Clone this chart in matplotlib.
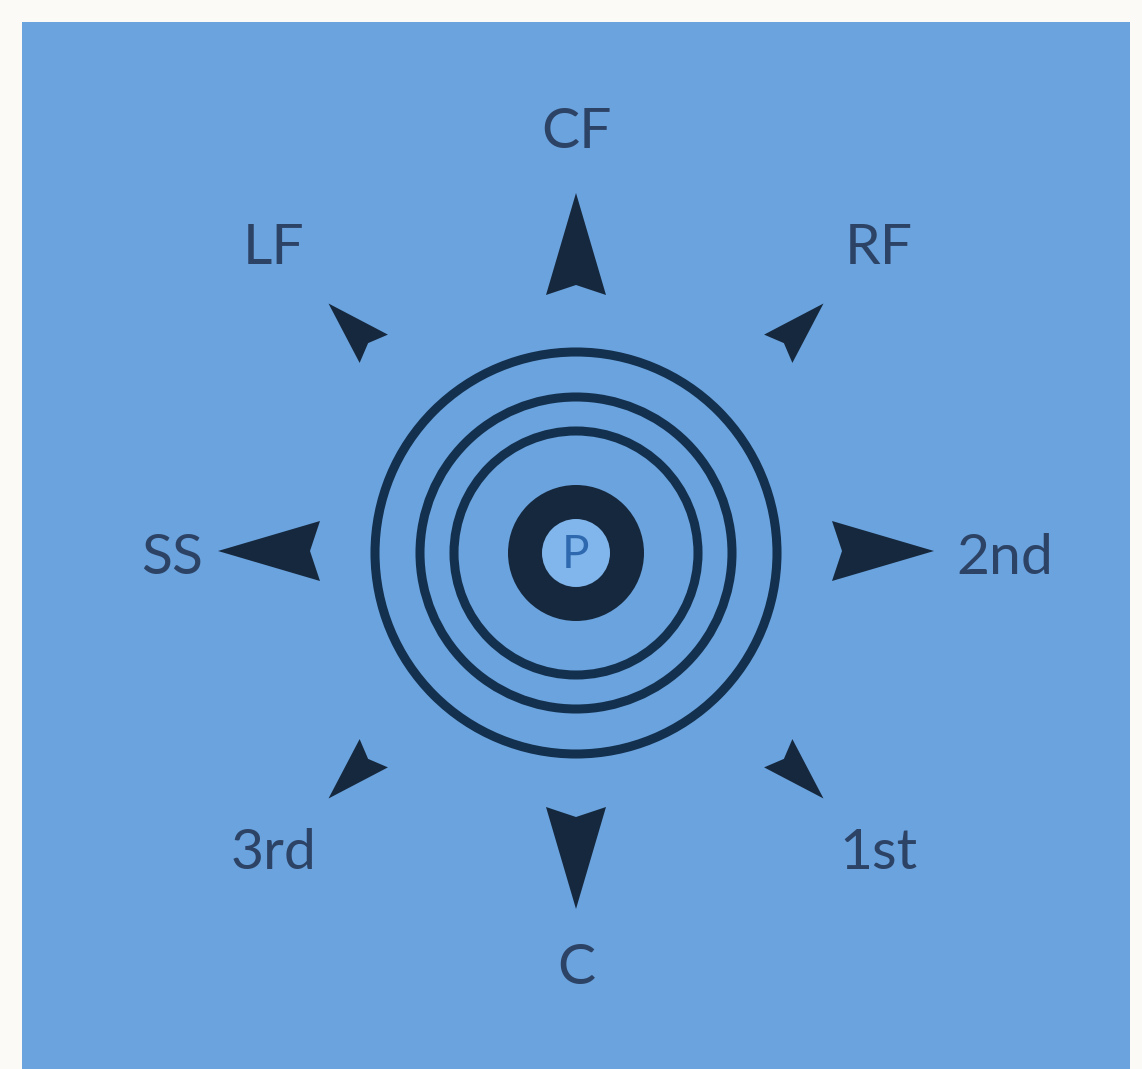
import numpy as np
import matplotlib.pyplot as plt
from matplotlib.patches import Rectangle, Circle, Polygon

# DIAGRAM CONTENT

labels = ["CF", "RF", "2nd", "1st", "C", "3rd", "SS", "LF"]
angles = [90, 45, 0, -45, -90, -135, 180, 135]   # direction of each arrow, degrees
centre_label = "P"

# LAYOUT (pixels, y down)

W, H = 1142, 1069
cx, cy = 576, 551
ring_radii = [201, 156, 122]
hub_outer, hub_inner = 68, 34

blue = "#6aa3de"
dark = "#16283d"
ring_col = "#13304e"
txt_col = "#2d4366"

fig = plt.figure(figsize=(W / 100, H / 100), dpi=100)
fig.patch.set_facecolor("#fbfaf6")
ax = fig.add_axes([0, 0, 1, 1])
ax.set_xlim(0, W)
ax.set_ylim(H, 0)
ax.set_aspect("equal")
ax.axis("off")

ax.add_patch(Rectangle((22, 22), 1108, H, facecolor=blue, edgecolor="none"))

# rings
for r in ring_radii:
    ax.add_patch(Circle((cx, cy + 2), r, facecolor="none", edgecolor=ring_col, lw=6.5))
ax.add_patch(Circle((cx, cy + 2), hub_outer, facecolor=dark, edgecolor="none"))
ax.add_patch(Circle((cx, cy + 2), hub_inner, facecolor="#80b6ec", edgecolor="none"))
ax.text(cx, cy + 4, centre_label, ha="center", va="center", fontsize=33,
        color="#2e68ae", family=["Lato", "DejaVu Sans"])


def arrowhead(ang, r_tip, r_base, half_w, notch):
    a = np.radians(ang)
    ux, uy = np.cos(a), -np.sin(a)
    px, py = -uy, ux
    tip = (cx + ux * r_tip, cy + uy * r_tip)
    b1 = (cx + ux * r_base + px * half_w, cy + uy * r_base + py * half_w)
    b2 = (cx + ux * r_base - px * half_w, cy + uy * r_base - py * half_w)
    nb = (cx + ux * (r_base + notch), cy + uy * (r_base + notch))
    return [tip, b1, nb, b2]


for lab, ang in zip(labels, angles):
    if ang % 90 == 0:
        pts = arrowhead(ang, 358, 256, 30, 10)
        r_lab = 418
    else:
        pts = arrowhead(ang, 350, 286, 20, 8)
        r_lab = 428
    ax.add_patch(Polygon(pts, closed=True, facecolor=dark, edgecolor="none"))

    a = np.radians(ang)
    if lab == "SS":
        x, y, ha = cx - 345 - 28, cy + 8, "right"
    elif lab == "2nd":
        x, y, ha = cx + 346 + 34, cy + 8, "left"
    else:
        x, y, ha = cx + np.cos(a) * r_lab, cy - np.sin(a) * r_lab, "center"
    ax.text(x, y, lab, ha=ha, va="center", fontsize=41, color=txt_col,
            family=["Lato", "DejaVu Sans"])

fig.savefig("out.png", dpi=100, facecolor=fig.get_facecolor())
